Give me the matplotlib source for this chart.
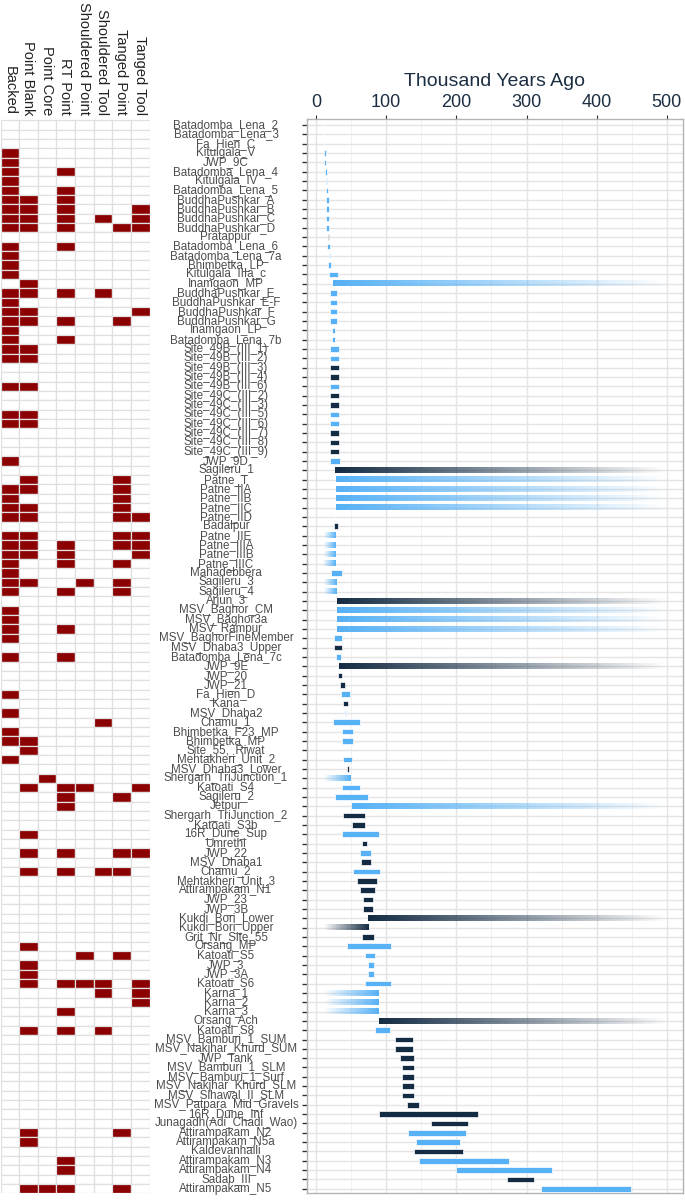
import numpy as np
import matplotlib.pyplot as plt
from matplotlib.colors import to_rgb
from matplotlib.transforms import blended_transform_factory

plt.rcParams['font.family'] = ['Liberation Sans', 'DejaVu Sans']

# sites, top to bottom
sites = [
    'Batadomba_Lena_2', 'Batadomba_Lena_3', 'Fa_Hien_C', 'Kitulgala_V', 'JWP_9C',
    'Batadomba_Lena_4', 'Kitulgala_IV', 'Batadomba_Lena_5', 'BuddhaPushkar_A',
    'BuddhaPushkar_B', 'BuddhaPushkar_C', 'BuddhaPushkar_D', 'Pratappur',
    'Batadomba_Lena_6', 'Batadomba_Lena_7a', 'Bhimbetka_LP', 'Kitulgala_IIIa_c',
    'Inamgaon_MP', 'BuddhaPushkar_E', 'BuddhaPushkar_E-F', 'BuddhaPushkar_F',
    'BuddhaPushkar_G', 'Inamgaon_LP', 'Batadomba_Lena_7b', 'Site_49B_(III_1)',
    'Site_49B_(III_2)', 'Site_49B_(III_3)', 'Site_49B_(III_4)', 'Site_49B_(III_6)',
    'Site_49C_(III_2)', 'Site_49C_(III_3)', 'Site_49C_(III_5)', 'Site_49C_(III_6)',
    'Site_49C_(III_7)', 'Site_49C_(III_8)', 'Site_49C_(III_9)', 'JWP_9D',
    'Sagileru_1', 'Patne_T', 'Patne_IIA', 'Patne_IIB', 'Patne_IIC', 'Patne_IID',
    'Badalpur', 'Patne_IIE', 'Patne_IIIA', 'Patne_IIIB', 'Patne_IIIC', 'Mahadebbera',
    'Sagileru_3', 'Sagileru_4', 'Arjun_3', 'MSV_Baghor_CM', 'MSV_Baghor3a',
    'MSV_Rampur', 'MSV_BaghorFineMember', 'MSV_Dhaba3_Upper', 'Batadomba_Lena_7c',
    'JWP_9E', 'JWP_20', 'JWP_21', 'Fa_Hien_D', 'Kana', 'MSV_Dhaba2', 'Chamu_1',
    'Bhimbetka_F23_MP', 'Bhimbetka_MP', 'Site_55,_Riwat', 'Mehtakheri_Unit_2',
    'MSV_Dhaba3_Lower', 'Shergarh_TriJunction_1', 'Katoati_S4', 'Sagileru_2',
    'Jetpur', 'Shergarh_TriJunction_2', 'Katoati_S3b', '16R_Dune_Sup', 'Umrethi',
    'JWP_22', 'MSV_Dhaba1', 'Chamu_2', 'Mehtakheri_Unit_3', 'Attirampakam_N1',
    'JWP_23', 'JWP_3B', 'Kukdi_Bori_Lower', 'Kukdi_Bori_Upper', 'Grit_Nr_Site_55',
    'Orsang_MP', 'Katoati_S5', 'JWP_3', 'JWP_3A', 'Katoati_S6', 'Karna_1', 'Karna_2',
    'Karna_3', 'Orsang_Ach', 'Katoati_S8', 'MSV_Bamburi_1_SUM',
    'MSV_Nakjhar_Khurd_SUM', 'JWP_Tank', 'MSV_Bamburi_1_SLM', 'MSV_Bamburi_1_Surf',
    'MSV_Nakjhar_Khurd_SLM', 'MSV_Sihawal_II_SLM', 'MSV_Patpara_Mid_Gravels',
    '16R_Dune_Inf', 'Junagadh(Adi_Chadi_Wao)', 'Attirampakam_N2',
    'Attirampakam_N5a', 'Kaldevanhalli', 'Attirampakam_N3', 'Attirampakam_N4',
    'Sadab_III', 'Attirampakam_N5',
]

# age ranges (thousand years ago)
age_min = [
    11.4, 11.4, 11.4, 11.4, 11.4, 12.4, 13.8, 14.7, 13.8, 13.8, 13.8, 13.8, 17.3,
    16.2, 19.0, 17.6, 18.5, 23.8, 20.0, 20.0, 20.0, 20.0, 22.8, 23.3, 19.5,
    19.5, 19.5, 19.5, 19.5, 19.5, 19.5, 19.5, 19.5, 19.5, 19.5, 19.5, 20.4,
    27.1, 28.0, 28.0, 28.0, 28.0, 27.3, 25.7, 11.4, 11.4, 11.4, 10.5, 21.9,
    11.4, 11.4, 29.5, 29.5, 29.5, 29.5, 26.1, 26.1, 28.0, 33.3, 30.9, 34.7,
    35.2, 38.0, 41.4, 24.7, 37.1, 37.1, np.nan, 38.5, 44.2, 11.4, 37.1, 27.1,
    51.8, 38.0, 51.8, 37.1, 65.6, 62.7, 64.2, 53.2, 58.0, 62.3, 67.0, 67.0,
    74.2, 11.4, 66.0, 44.2, 70.4, 74.2, 74.2, 70.4, 11.4, 11.4, 11.4, 89.8,
    84.0, 112.2, 112.2, 120.3, 122.2, 122.2, 122.2, 122.2, 129.3, 89.4, 164.0,
    131.2, 143.1, 139.3, 146.5, 200.2, 271.5, 321.3,
]
age_max = [
    12.0, 12.0, 12.0, 14.3, 14.7, 15.7, 15.7, 16.6, 18.1, 18.1, 18.1, 18.1, 18.0,
    19.5, 20.0, 21.9, 30.9, 500, 29.5, 29.5, 29.5, 29.5, 27.1, 27.6, 32.3,
    32.3, 32.3, 32.3, 32.3, 32.3, 32.3, 32.3, 32.3, 32.3, 32.3, 32.3, 33.8,
    500, 500, 500, 500, 500, 27.8, 30.9, 28.5, 28.5, 28.5, 28.1, 37.1,
    29.9, 29.9, 500, 500, 500, 500, 37.1, 37.1, 35.2, 500, 37.6, 40.9,
    48.5, 46.0, 42.3, 63.2, 52.8, 52.8, np.nan, 51.8, 47.0, 48.5, 62.3, 74.2,
    500, 69.9, 70.4, 90.3, 72.7, 78.9, 77.9, 91.7, 87.5, 84.2, 81.3, 81.3,
    500, 74.2, 82.7, 106.5, 84.2, 83.2, 83.2, 107.0, 88.9, 88.9, 88.9, 500,
    105.4, 137.9, 137.9, 140.3, 139.8, 139.8, 139.8, 139.8, 146.9, 230.2, 216.3,
    213.5, 205.4, 209.2, 274.4, 336.2, 310.0, 449.2,
]
# dating group: 0 = dark, 1 = light, 2 = undated point
group = [
    2, 2, 2, 1, 1, 1, 1, 1, 1, 1, 1, 1, 0, 1, 1, 1, 1, 1, 1, 1, 1, 1, 1, 1,
    1, 1, 0, 0, 1, 0, 0, 1, 1, 0, 0, 0, 1, 0, 1, 1, 1, 1, 1, 0, 1, 1, 1, 1,
    1, 1, 1, 0, 1, 1, 1, 1, 0, 1, 0, 0, 0, 1, 0, 1, 1, 1, 1, 1, 1, 0, 1, 1,
    1, 1, 0, 0, 1, 0, 1, 0, 1, 0, 0, 0, 0, 0, 0, 0, 1, 1, 1, 1, 1, 1, 1, 1,
    0, 1, 0, 0, 0, 0, 0, 0, 0, 0, 0, 0, 1, 1, 0, 1, 1, 0, 1,
]
# bound: 's' closed range, 'r' open towards older, 'l' open towards younger
bound = list(
    'ssssssssss'
    'sssssssrss'
    'ssssssssss'
    'sssssssrrr'
    'rrssllllsl'
    'lrrrrsssrs'
    'ssssssssss'
    'lssrssssss'
    'sssssrlsss'
    'ssslllrsss'
    'ssssssssss'
    'sssss'
)

tools = ['Backed', 'Point Blank', 'Point Core', 'RT Point', 'Shouldered Point',
         'Shouldered Tool', 'Tanged Point', 'Tanged Tool']
# presence of each tool type per site (same order as tools)
tool_presence = [
    '00000000', '00000000', '00000000', '10000000', '10000000', '10010000',
    '10000000', '10010000', '11010000', '11010001', '11010101', '11010011',
    '00000000', '10010000', '10000000', '10000000', '10000000', '01000000',
    '11010100', '10000000', '11000001', '11010010', '10000000', '10010000',
    '11000000', '11000000', '00000000', '00000000', '11000000', '00000000',
    '00000000', '11000000', '11000000', '00000000', '00000000', '00000000',
    '10000000', '00000000', '01000010', '11000010', '10000010', '11000010',
    '11000011', '00000000', '11000011', '11010011', '11010001', '10010010',
    '10000000', '11001010', '10010010', '00000000', '10000000', '10000000',
    '10010000', '10000000', '00000000', '10010000', '00000000', '00000000',
    '00000000', '10000000', '00000000', '10000000', '00000100', '10000000',
    '11000000', '01000000', '10000000', '00000000', '00100000', '01011001',
    '00010010', '00010000', '00000000', '00000000', '01000000', '00000000',
    '01010011', '00000000', '01010110', '00000000', '00000000', '00000000',
    '00000000', '00000000', '00000000', '00000000', '01000000', '00001010',
    '01000000', '01000000', '01011101', '00000101', '00000001', '00010000',
    '00000000', '01010100', '00000000', '00000000', '00000000', '00000000',
    '00000000', '00000000', '00000000', '00000000', '00000000', '00000000',
    '01000010', '01000000', '00000000', '00010000', '00010000', '00000000',
    '01110010',
]

n = len(sites)
rows = np.arange(n)
group_colors = {0: '#132B43', 1: '#56B1F7', 2: '#9a9a9a'}
navy_text = '#1c2e42'

W, H = 685, 1201
fig = plt.figure(figsize=(W / 100, H / 100), dpi=100)
bottom = 1 - 1193 / H
height = (1193 - 119) / H
ax = fig.add_axes([307 / W, bottom, 376 / W, height])

bar_h = 0.6
for i in rows:
    a, b = age_min[i], age_max[i]
    if np.isnan(a):
        continue
    col = group_colors[group[i]]
    if bound[i] == 's':
        ax.barh(i, b - a, left=a, height=bar_h, color=col,
                edgecolor='white', linewidth=0.5, zorder=3)
    else:
        grad = np.zeros((1, 256, 4))
        grad[..., :3] = to_rgb(col)
        alpha = np.linspace(1, 0, 256) if bound[i] == 'r' else np.linspace(0, 1, 256)
        grad[..., 3] = alpha
        ax.imshow(grad, extent=[a, b, i + bar_h / 2, i - bar_h / 2],
                  aspect='auto', interpolation='bilinear', zorder=3)

ax.set_xlim(-12.8, 523)
ax.set_ylim(114.45, -0.65)
ax.xaxis.tick_top()
ax.set_xticks([0, 100, 200, 300, 400, 500])
ax.set_xticks(np.arange(50, 500, 100), minor=True)
ax.set_yticks(rows)
ax.set_yticklabels([])
ax.tick_params(axis='x', which='major', labelsize=13, labelcolor=navy_text,
               length=3, color='#333333', pad=3)
ax.tick_params(axis='x', which='minor', length=0)
ax.tick_params(axis='y', length=3.5, width=1, color='#333333')
ax.grid(True, which='major', color='#e4e4e4', linewidth=1.0)
ax.grid(True, which='minor', axis='x', color='#efefef', linewidth=0.6)
ax.set_axisbelow(True)
for s in ax.spines.values():
    s.set_color('#b3b3b3')
    s.set_linewidth(1)

# site labels, centred in the gap between the panels
trans = blended_transform_factory(fig.transFigure, ax.transData)
for i, name in enumerate(sites):
    ax.text(226 / W, i, name, transform=trans, ha='center', va='center',
            fontsize=8.4, color='#4d4d4d', clip_on=False)

fig.text(495 / W, 1 - 81 / H, 'Thousand Years Ago', ha='center', va='center',
         fontsize=14, color=navy_text)

# tool presence grid
hax = fig.add_axes([0.5 / W, bottom, 149 / W, height])
for c, tool in enumerate(tools):
    present = [p[c] == '1' for p in tool_presence]
    colors = ['#8B0000' if v else 'white' for v in present]
    hax.bar(np.full(n, c), np.ones(n), bottom=rows - 0.5, width=1,
            color=colors, edgecolor='#e0e0e0', linewidth=0.9)
    fig.text((c + 0.5) * 149 / 8 / W, 1 - 115 / H, tool, rotation=-90,
             ha='center', va='bottom', fontsize=10.5, color='#222222')
hax.set_xlim(-0.5, 7.5)
hax.set_ylim(114.45, -0.65)
hax.axis('off')

fig.savefig('out.png', dpi=100)
